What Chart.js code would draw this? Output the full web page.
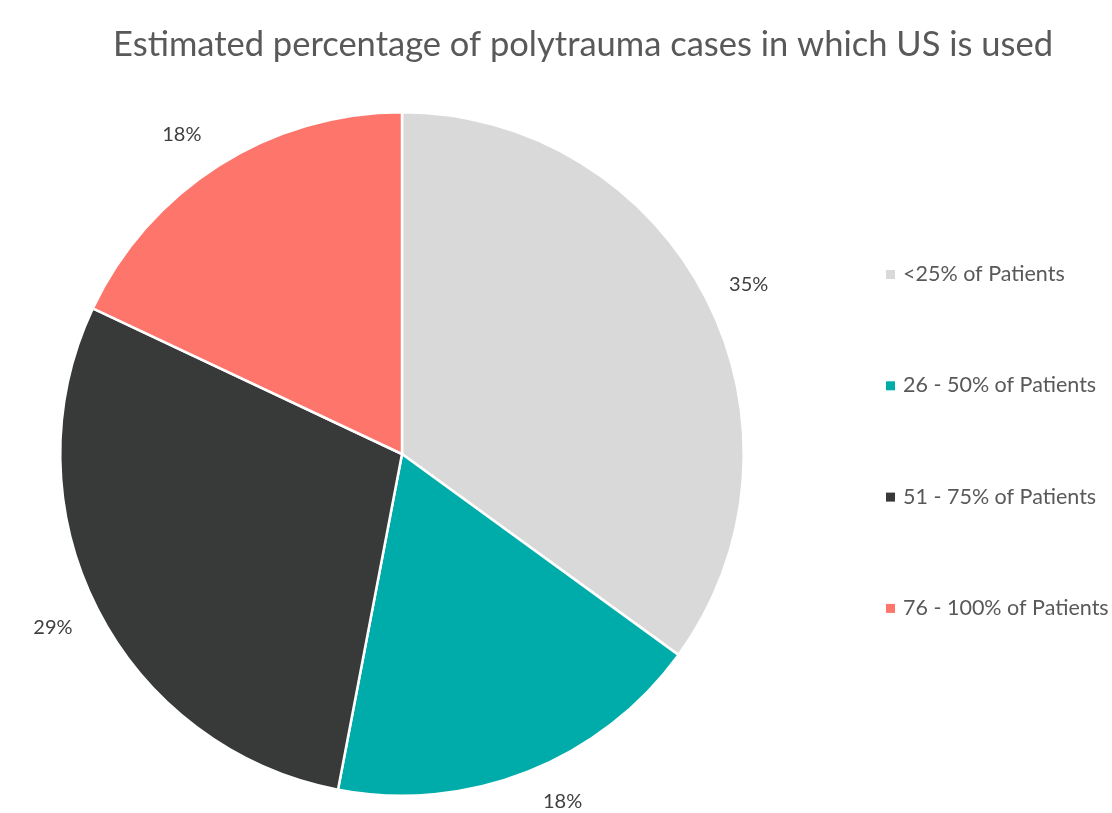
<!DOCTYPE html>
<html>
<head>
<meta charset="utf-8">
<script src="https://cdn.jsdelivr.net/npm/chart.js@4"></script>
<style>
  html, body { margin: 0; padding: 0; background: #fff; }
  #wrap { width: 1112px; height: 813px; }
</style>
</head>
<body>
<div id="wrap"><canvas id="pieChart" width="1112" height="813"></canvas></div>
<script>
// Chart data
const chartTitle = 'Estimated percentage of polytrauma cases in which US is used';
const categories = ['<25% of Patients', '26 - 50% of Patients', '51 - 75% of Patients', '76 - 100% of Patients'];
const shares = [35, 18, 29, 18];
const sliceColors = ['#D9D9D9', '#00ACA9', '#383A39', '#FD756B'];

const FONT = 'Lato, "Open Sans", sans-serif';

// label placement tweaks (Excel "best fit" doesn't sit exactly on the mid angle)
const labelAngleNudge = [1, -3.2, 0.6, -2.2];   // degrees
const labelGap = [44, 41, 48, 46];               // px beyond the rim

// Title drawn at a fixed spot (it is not centered on the canvas in the original)
const titlePlugin = {
    id: 'sheetTitle',
    afterDraw(chart) {
        const ctx = chart.ctx;
        ctx.save();
        ctx.font = '34.5px ' + FONT;
        ctx.fillStyle = '#595959';
        ctx.textAlign = 'center';
        ctx.textBaseline = 'middle';
        ctx.fillText(chartTitle, 583, 45);
        ctx.restore();
    }
};

// Percent labels outside each slice
const outsideLabels = {
    id: 'outsideLabels',
    afterDatasetsDraw(chart) {
        const ctx = chart.ctx;
        const meta = chart.getDatasetMeta(0);
        ctx.save();
        ctx.font = '20px ' + FONT;
        ctx.fillStyle = '#404040';
        ctx.textAlign = 'center';
        ctx.textBaseline = 'middle';
        meta.data.forEach((arc, i) => {
            const p = arc.getProps(['x', 'y', 'startAngle', 'endAngle', 'outerRadius'], true);
            const mid = (p.startAngle + p.endAngle) / 2 + labelAngleNudge[i] * Math.PI / 180;
            const r = p.outerRadius + labelGap[i];
            ctx.fillText(shares[i] + '%', p.x + Math.cos(mid) * r, p.y + Math.sin(mid) * r);
        });
        ctx.restore();
    }
};

// Legend on the right with wide spacing
const sideLegend = {
    id: 'sideLegend',
    afterDraw(chart) {
        const ctx = chart.ctx;
        const left = 886;
        const top = 274;
        const step = 111.3;
        ctx.save();
        ctx.font = '21.5px ' + FONT;
        ctx.textBaseline = 'middle';
        chart.data.labels.forEach((label, i) => {
            const y = top + i * step;
            ctx.fillStyle = chart.data.datasets[0].backgroundColor[i];
            ctx.fillRect(left, y - 4, 9, 9);
            ctx.fillStyle = '#595959';
            ctx.fillText(label, left + 17, y);
        });
        ctx.restore();
    }
};

new Chart(document.getElementById('pieChart').getContext('2d'), {
    type: 'pie',
    data: {
        labels: categories,
        datasets: [{
            data: shares,
            backgroundColor: sliceColors,
            borderColor: '#ffffff',
            borderWidth: 2.5
        }]
    },
    options: {
        responsive: false,
        animation: false,
        layout: {
            padding: { left: 59, right: 367, top: 111, bottom: 16 }
        },
        plugins: {
            legend: { display: false },
            title: { display: false },
            tooltip: { enabled: false }
        }
    },
    plugins: [titlePlugin, outsideLabels, sideLegend]
});
</script>
</body>
</html>
